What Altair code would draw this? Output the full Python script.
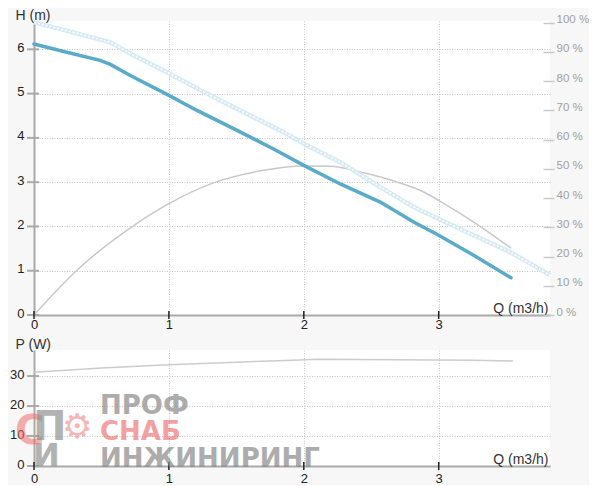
import altair as alt
import pandas as pd

# ---------------- data ----------------
q_head = [0, 0.22, 0.49, 0.566, 0.714, 1.0, 1.208, 1.505, 1.776, 2.0, 2.27, 2.567, 2.814, 3.0, 3.259, 3.536]
h_head = [6.12, 5.95, 5.75, 5.66, 5.41, 4.96, 4.62, 4.17, 3.75, 3.38, 2.96, 2.55, 2.10, 1.80, 1.35, 0.84]

q_max = [0, 0.22, 0.566, 0.714, 1.0, 1.282, 1.554, 1.85, 2.0, 2.27, 2.567, 2.814, 3.0, 3.259, 3.53, 3.826]
h_max = [6.61, 6.44, 6.16, 5.90, 5.46, 5.0, 4.58, 4.13, 3.87, 3.45, 2.89, 2.44, 2.17, 1.80, 1.42, 0.90]

q_eff = [0, 0.32, 0.736, 0.996, 1.33, 1.70, 2.0, 2.196, 2.419, 2.69, 2.888, 3.061, 3.259, 3.536]
eff = [0, 15.4, 30.5, 38.0, 45.2, 49.5, 51.0, 50.9, 48.9, 45.5, 42.1, 37.5, 31.8, 22.9]

q_pow = [0, 0.5, 1.0, 1.97, 2.1, 3.26, 3.55]
p_pow = [31.3, 32.7, 33.8, 35.4, 35.6, 35.3, 35.0]

q_ticks = [0, 1, 2, 3]
h_ticks = [0, 1, 2, 3, 4, 5, 6]
eff_ticks = [0, 10, 20, 30, 40, 50, 60, 70, 80, 90, 100]
p_ticks = [0, 10, 20, 30]

wm_gray_1 = "ПРОФ"
wm_red = "СНАБ"
wm_gray_2 = "ИНЖИНИРИНГ"

# ---------------- styling ----------------
FONT = "Liberation Sans"
W = 516
H_TOP = 294
H_BOT = 116
GRID = "#c4c4c4"
AXIS_GRAY = "#aaaaaa"

df_head = pd.DataFrame({"q": q_head, "h": h_head})
df_max = pd.DataFrame({"q": q_max, "h": h_max})
df_eff = pd.DataFrame({"q": q_eff, "e": eff})
df_pow = pd.DataFrame({"q": q_pow, "p": p_pow})
df_qt = pd.DataFrame({"q": q_ticks})
df_ht = pd.DataFrame({"h": h_ticks})
df_pt = pd.DataFrame({"p": p_ticks})
df_one = pd.DataFrame({"a": [0]})

x_scale = alt.Scale(domain=[0, 3.825], nice=False, zero=False)
h_scale = alt.Scale(domain=[0, 6.64], nice=False)
e_scale = alt.Scale(domain=[0, 100.6], nice=False)
p_scale = alt.Scale(domain=[0, 38.7], nice=False)


def x_axis(pad):
    return alt.Axis(values=q_ticks, format="d", title="Q (m3/h)", titleX=W - 2, titleY=-3,
                    titleAlign="right", titleBaseline="alphabetic", titleFont=FONT,
                    titleFontSize=14, titleFontWeight="normal", titleColor="#333333",
                    labelFont=FONT, labelFontSize=13, labelColor="#222222", labelPadding=pad,
                    labelFlush=False, ticks=False, tickSize=0, domainColor=AXIS_GRAY,
                    domainWidth=2, grid=True, gridColor=GRID, gridDash=[1, 1.5])


def y_axis(values, title):
    return alt.Axis(values=values, format="d", title=title, titleAngle=0, titleX=-19, titleY=-2,
                    titleAlign="left", titleBaseline="alphabetic", titleFont=FONT,
                    titleFontSize=14, titleFontWeight="normal", titleColor="#333333",
                    labelFont=FONT, labelFontSize=13, labelColor="#222222", labelPadding=10,
                    labelBaseline="alphabetic", labelOffset=2, ticks=False, tickSize=0,
                    domainColor=AXIS_GRAY, domainWidth=2, grid=True, gridColor=GRID,
                    gridDash=[1, 1.5])


XA_TOP = x_axis(3)
XA_BOT = x_axis(6)
YA_H = y_axis(h_ticks, "H (m)")
YA_P = y_axis(p_ticks, "P (W)")


def x_tick_rules(h, xa):
    return alt.Chart(df_qt).mark_rule(color="#222222", strokeWidth=1.5).encode(
        x=alt.X("q:Q", scale=x_scale, axis=xa),
        y=alt.value(h - 4), y2=alt.value(h + 4))


def y_tick_rules(df, field, scale, ya):
    return alt.Chart(df).mark_rule(color=AXIS_GRAY, strokeWidth=2).encode(
        y=alt.Y(field, scale=scale, axis=ya),
        x=alt.value(-7), x2=alt.value(5))


# ---------------- top panel ----------------
max_bg = alt.Chart(df_max).mark_line(color="#d6eaf6", strokeWidth=4.5).encode(
    x=alt.X("q:Q", scale=x_scale, axis=XA_TOP),
    y=alt.Y("h:Q", scale=h_scale, axis=YA_H))
max_dots = alt.Chart(df_max).mark_line(color="#ffffff", strokeWidth=1.6, strokeDash=[2, 2]).encode(
    x=alt.X("q:Q", scale=x_scale, axis=XA_TOP),
    y=alt.Y("h:Q", scale=h_scale, axis=YA_H))
head_line = alt.Chart(df_head).mark_line(color="#5aaac9", strokeWidth=3.5, strokeCap="round").encode(
    x=alt.X("q:Q", scale=x_scale, axis=XA_TOP),
    y=alt.Y("h:Q", scale=h_scale, axis=YA_H))

h_group = alt.layer(max_bg, max_dots, head_line,
                    y_tick_rules(df_ht, "h:Q", h_scale, YA_H),
                    x_tick_rules(H_TOP, XA_TOP))

eff_line = alt.Chart(df_eff).mark_line(color="#c8c8c8", strokeWidth=1.5, interpolate="monotone").encode(
    x=alt.X("q:Q", scale=x_scale, axis=XA_TOP),
    y=alt.Y("e:Q", scale=e_scale,
            axis=alt.Axis(orient="right", values=eff_ticks, labelExpr="datum.value + ' %'",
                          title=None, domain=False, ticks=True, tickSize=11, tickColor="#c8c8c8",
                          tickWidth=1.5, offset=-7, labelPadding=2, labelBaseline="alphabetic",
                          labelFont=FONT, labelFontSize=11.5, labelColor="#a0a0a0", grid=False)))

top = alt.layer(eff_line, h_group).resolve_scale(y="independent").properties(width=W, height=H_TOP)

# ---------------- bottom panel ----------------
p_line = alt.Chart(df_pow).mark_line(color="#cccccc", strokeWidth=1.5).encode(
    x=alt.X("q:Q", scale=x_scale, axis=XA_BOT),
    y=alt.Y("p:Q", scale=p_scale, axis=YA_P))


def wm(text, x, y, size, color, opacity):
    return alt.Chart(df_one).mark_text(font="DejaVu Sans", fontWeight="bold", fontSize=size,
                                       align="left", baseline="alphabetic", color=color,
                                       opacity=opacity).encode(
        x=alt.value(x), y=alt.value(y), text=alt.value(text))


watermark = [
    wm("С", -19, 94, 40, "#ee6e6e", 0.55),
    wm("П", -1, 90, 40, "#8a8a8a", 0.65),
    wm("И", -1, 116, 32, "#8a8a8a", 0.65),
    wm("⚙", 28, 88, 34, "#ee6e6e", 0.5),
    wm(wm_gray_1, 66, 64, 26, "#8a8a8a", 0.7),
    wm(wm_red, 66, 90, 26, "#ee6e6e", 0.65),
    wm(wm_gray_2, 66, 117, 26, "#8a8a8a", 0.7),
]

bottom = alt.layer(p_line, y_tick_rules(df_pt, "p:Q", p_scale, YA_P),
                   x_tick_rules(H_BOT, XA_BOT), *watermark).properties(width=W, height=H_BOT)

chart = alt.vconcat(top, bottom, spacing=35, bounds="flush").properties(
    background="#f7f7f7", padding={"left": 1, "top": 0, "right": 0, "bottom": 0}
).configure(font=FONT).configure_view(fill="#ffffff", strokeWidth=0)

chart.save("out.html", embed_options={"renderer": "svg", "actions": False})
